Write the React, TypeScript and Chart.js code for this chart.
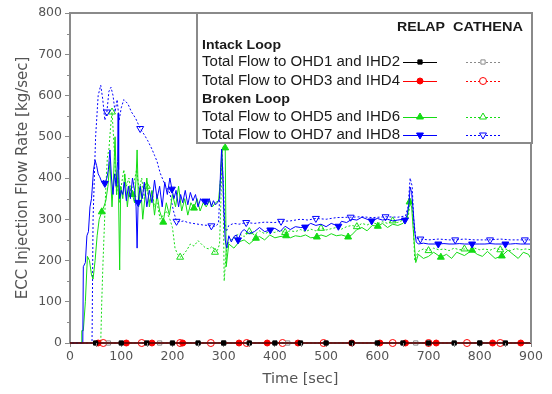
import React, { useEffect, useRef } from 'react';
import { Chart, registerables } from 'chart.js';
import { drawPoint } from 'chart.js/helpers';

Chart.register(...registerables);

type P = [number, number];

// ---------- data ----------
const xMinorTicks = [50, 150, 250, 350, 450, 550, 650, 750, 850];
const yMinorTicks = [50, 150, 250, 350, 450, 550, 650, 750];

// Intack loop (all zero flow)
const relapOhd1: P[] = [[0, 0], [50, 0], [100, 0], [150, 0], [200, 0], [250, 0], [300, 0], [350, 0], [400, 0], [450, 0], [500, 0], [550, 0], [600, 0], [650, 0], [700, 0], [750, 0], [800, 0], [850, 0], [900, 0]];
const relapOhd1Marks = [50, 100, 150, 200, 250, 300, 350, 400, 450, 500, 550, 600, 650, 700, 750, 800, 850];
const cathenaOhd1: P[] = [[0, 0], [75, 0], [175, 0], [300, 0], [425, 0], [550, 0], [675, 0], [800, 0], [900, 0]];
const cathenaOhd1Marks = [75, 175, 300, 425, 550, 675, 800];
const relapOhd3: P[] = [[0, 0], [55, 0], [110, 0], [160, 0], [220, 0], [330, 0], [385, 0], [445, 0], [550, 0], [605, 0], [655, 0], [715, 0], [825, 0], [880, 0], [900, 0]];
const relapOhd3Marks = [55, 110, 160, 220, 330, 385, 445, 550, 605, 655, 715, 825, 880];
const cathenaOhd3: P[] = [[0, 0], [65, 0], [140, 0], [215, 0], [275, 0], [345, 0], [415, 0], [495, 0], [630, 0], [700, 0], [775, 0], [840, 0], [900, 0]];
const cathenaOhd3Marks = [65, 140, 215, 275, 345, 415, 495, 630, 700, 775, 840];

// Broken loop
const relapOhd7: P[] = [[0, 0], [25, 0], [26, 185], [30, 195], [33, 260], [36, 270], [39, 330], [42, 350], [46, 420], [49, 443], [52, 430], [55, 410], [58, 403], [62, 390], [66, 395], [68, 387], [72, 400], [75, 420], [78, 468], [81, 400], [84, 360], [87, 410], [90, 380], [93, 440], [94, 557], [95, 420], [97, 350], [100, 370], [103, 360], [106, 390], [110, 345], [114, 380], [118, 350], [122, 400], [126, 370], [129, 330], [131, 230], [133, 341], [137, 380], [141, 350], [145, 390], [150, 330], [155, 370], [160, 340], [165, 395], [170, 350], [175, 380], [180, 330], [185, 390], [190, 360], [195, 400], [199, 373], [203, 350], [207, 370], [212, 330], [216, 360], [220, 340], [225, 370], [230, 335], [235, 365], [240, 345], [245, 360], [250, 330], [255, 350], [260, 340], [264, 344], [268, 335], [272, 350], [276, 330], [280, 345], [284, 335], [288, 340], [292, 350], [294, 420], [296, 470], [298, 420], [300, 330], [303, 250], [306, 230], [310, 260], [315, 245], [320, 258], [325, 262], [328, 250], [335, 270], [340, 275], [350, 265], [360, 270], [370, 280], [380, 270], [391, 274], [400, 278], [410, 270], [420, 283], [430, 275], [440, 282], [450, 280], [459, 281], [470, 290], [480, 285], [490, 288], [500, 282], [510, 290], [524, 283], [530, 295], [540, 292], [550, 300], [560, 298], [570, 305], [580, 300], [589, 296], [600, 302], [610, 298], [620, 300], [630, 296], [640, 298], [650, 300], [654, 298], [658, 310], [662, 340], [664, 378], [667, 365], [670, 320], [673, 270], [676, 245], [680, 240], [690, 242], [700, 240], [719, 240], [730, 241], [740, 240], [750, 240], [760, 241], [770, 240], [785, 240], [800, 240], [810, 240], [820, 241], [830, 240], [850, 240], [860, 240], [870, 241], [880, 240], [890, 240], [900, 240]];
const relapOhd7Marks = [68, 133, 199, 264, 328, 391, 459, 524, 589, 654, 719, 785, 850];

const relapOhd5: P[] = [[0, 0], [22, 0], [23, 30], [26, 30], [30, 100], [34, 210], [38, 200], [42, 165], [45, 155], [49, 200], [53, 260], [57, 300], [62, 318], [66, 330], [70, 345], [74, 380], [78, 440], [82, 330], [85, 400], [88, 500], [91, 360], [94, 420], [97, 177], [99, 380], [103, 350], [107, 410], [112, 330], [116, 380], [122, 360], [126, 340], [129, 400], [131, 468], [134, 330], [138, 380], [142, 300], [146, 350], [150, 400], [155, 330], [160, 370], [165, 310], [170, 360], [175, 320], [182, 293], [188, 340], [194, 310], [200, 360], [206, 330], [212, 380], [218, 320], [224, 350], [230, 310], [236, 340], [242, 327], [248, 350], [254, 320], [260, 340], [266, 330], [272, 345], [278, 330], [284, 340], [290, 345], [294, 400], [297, 470], [300, 478], [303, 473], [305, 185], [310, 240], [320, 230], [330, 245], [340, 250], [350, 240], [363, 254], [370, 258], [380, 250], [390, 262], [400, 255], [410, 258], [422, 260], [430, 255], [440, 260], [450, 258], [460, 262], [470, 255], [482, 257], [490, 262], [500, 258], [510, 265], [520, 260], [530, 262], [543, 257], [550, 262], [560, 275], [570, 280], [580, 272], [590, 285], [601, 283], [610, 290], [620, 280], [630, 288], [640, 285], [650, 290], [658, 300], [663, 342], [667, 330], [671, 260], [675, 195], [680, 215], [690, 205], [700, 210], [710, 220], [724, 208], [735, 215], [745, 205], [755, 220], [770, 212], [785, 225], [795, 215], [805, 210], [815, 222], [830, 205], [843, 211], [855, 225], [865, 215], [875, 205], [885, 220], [895, 215], [900, 204]];
const relapOhd5Marks = [62, 122, 182, 242, 303, 363, 422, 482, 543, 601, 663, 724, 785, 843];

const cathenaOhd7: P[] = [[0, 0], [43, 0], [45, 300], [50, 500], [55, 600], [60, 625], [64, 590], [68, 540], [72, 560], [76, 610], [80, 620], [84, 600], [88, 560], [92, 590], [96, 540], [100, 570], [105, 590], [113, 580], [120, 560], [128, 545], [137, 520], [145, 505], [152, 490], [160, 470], [165, 455], [170, 440], [176, 412], [185, 385], [195, 363], [202, 320], [208, 295], [215, 294], [222, 296], [230, 292], [240, 290], [250, 288], [260, 286], [270, 285], [276, 284], [284, 283], [290, 290], [293, 380], [296, 440], [299, 400], [302, 300], [305, 270], [310, 285], [320, 290], [330, 288], [344, 292], [360, 290], [380, 293], [400, 292], [412, 295], [430, 296], [450, 300], [465, 298], [480, 302], [500, 300], [520, 304], [548, 305], [570, 306], [590, 304], [616, 306], [640, 305], [655, 308], [660, 330], [664, 400], [668, 380], [671, 300], [675, 255], [684, 252], [700, 250], [720, 252], [740, 250], [752, 250], [770, 252], [790, 250], [820, 250], [840, 252], [860, 250], [888, 250], [900, 250]];
const cathenaOhd7Marks = [72, 137, 208, 276, 344, 412, 480, 548, 616, 684, 752, 820, 888];

const cathenaOhd5: P[] = [[0, 0], [60, 0], [62, 100], [64, 180], [67, 280], [70, 380], [73, 450], [76, 470], [79, 520], [82, 560], [85, 500], [88, 430], [91, 360], [94, 400], [97, 340], [100, 380], [105, 420], [110, 380], [115, 400], [120, 360], [125, 390], [130, 420], [135, 370], [140, 400], [145, 350], [150, 380], [155, 340], [160, 370], [165, 330], [170, 340], [176, 300], [182, 310], [188, 320], [195, 300], [200, 280], [205, 230], [210, 215], [215, 208], [220, 212], [228, 225], [235, 240], [242, 235], [250, 248], [258, 238], [265, 230], [272, 228], [278, 235], [283, 220], [288, 225], [292, 240], [295, 360], [297, 470], [299, 380], [301, 150], [305, 220], [310, 245], [320, 255], [330, 265], [340, 258], [350, 270], [360, 262], [370, 272], [380, 265], [390, 270], [400, 268], [410, 274], [420, 268], [430, 272], [440, 270], [450, 275], [460, 270], [470, 276], [480, 272], [490, 278], [500, 274], [510, 277], [520, 280], [530, 276], [540, 282], [550, 285], [560, 282], [570, 290], [580, 286], [590, 292], [600, 288], [610, 294], [620, 290], [630, 296], [640, 292], [650, 298], [660, 302], [665, 350], [669, 320], [673, 200], [680, 222], [690, 228], [700, 224], [710, 230], [720, 226], [730, 228], [740, 224], [750, 230], [760, 226], [770, 228], [780, 224], [790, 230], [800, 226], [810, 228], [820, 225], [830, 230], [840, 226], [850, 228], [860, 224], [870, 229], [880, 226], [890, 228], [900, 226]];
const cathenaOhd5Marks = [82, 150, 215, 283, 350, 420, 490, 560, 630, 700, 770, 840];

// ---------- styling ----------
const FONT = '"DejaVu Sans", "Liberation Sans", sans-serif';
const LFONT = '"Liberation Sans", Arial, sans-serif';
const AXIS = '#8a8a8a';
const TXT = '#555555';
const BLUE = '#0000ff';
const GREEN = '#14dc14';
const RED = '#ff0000';
const BLACK = '#000000';
const GRAY = '#8a8a8a';

function series(label: string, pts: P[], marks: number[], color: string, dashed: boolean,
  pointStyle: string, rotation: number, filled: boolean, radius: number) {
  return {
    label,
    data: pts.map(([x, y]) => ({ x, y })),
    borderColor: color,
    backgroundColor: color,
    borderWidth: 1,
    borderDash: dashed ? [2, 2] : [],
    pointStyle,
    pointRotation: rotation,
    pointBackgroundColor: filled ? color : 'rgba(255,255,255,0)',
    pointBorderColor: color,
    pointBorderWidth: 1,
    pointRadius: (c: any) => (c.raw && marks.includes(c.raw.x) ? radius : 0),
    pointHoverRadius: 0,
    pointHitRadius: 0,
    tension: 0,
    fill: false,
    clip: false as any,
    _legend: { color, dashed, pointStyle, rotation, filled, radius },
  };
}

// draws text stretched horizontally to a given width
function fitText(ctx: CanvasRenderingContext2D, text: string, x: number, y: number, width: number) {
  const w = ctx.measureText(text).width || 1;
  ctx.save();
  ctx.translate(x, y);
  ctx.scale(width / w, 1);
  ctx.textAlign = 'left';
  ctx.fillText(text, 0, 0);
  ctx.restore();
}

const framePlugin = {
  id: 'frameAndLegend',
  afterDraw(chart: any) {
    const ctx: CanvasRenderingContext2D = chart.ctx;
    const { left, right, top, bottom } = chart.chartArea;
    const xs = chart.scales.x;
    const ys = chart.scales.y;
    ctx.save();
    // frame top & right
    ctx.strokeStyle = AXIS;
    ctx.lineWidth = 2;
    ctx.beginPath();
    ctx.moveTo(left, top);
    ctx.lineTo(right, top);
    ctx.lineTo(right, bottom);
    ctx.stroke();
    // minor ticks
    ctx.lineWidth = 1;
    ctx.beginPath();
    for (const v of yMinorTicks) {
      const y = Math.round(ys.getPixelForValue(v)) + 0.5;
      ctx.moveTo(left - 3, y);
      ctx.lineTo(left, y);
    }
    for (const v of xMinorTicks) {
      const x = Math.round(xs.getPixelForValue(v)) + 0.5;
      ctx.moveTo(x, bottom);
      ctx.lineTo(x, bottom + 4);
    }
    ctx.stroke();

    // legend box
    const bx = right - 334;
    const by = top;
    const bw = 335;
    const bh = 130;
    ctx.fillStyle = '#ffffff';
    ctx.fillRect(bx, by, bw, bh);
    ctx.strokeStyle = AXIS;
    ctx.lineWidth = 2;
    ctx.strokeRect(bx, by, bw, bh);

    const ds = chart.data.datasets;
    const find = (l: string) => ds.find((d: any) => d.label === l);
    const relapX = bx + 223;
    const cathX = bx + 286;
    const sampleHalf = 17;

    ctx.textBaseline = 'middle';
    ctx.fillStyle = '#1a1a1a';
    ctx.font = `bold 13px ${LFONT}`;
    fitText(ctx, 'RELAP', bx + 200, by + 14, 48);
    fitText(ctx, 'CATHENA', bx + 256, by + 14, 70);

    const rows: any[] = [
      { head: 'Intack Loop', y: 32, w: 79 },
      { text: 'Total Flow to OHD1 and IHD2', y: 49, r: 'RELAP OHD1', c: 'CATHENA OHD1' },
      { text: 'Total Flow to OHD3 and IHD4', y: 68, r: 'RELAP OHD3', c: 'CATHENA OHD3' },
      { head: 'Broken Loop', y: 86, w: 88 },
      { text: 'Total Flow to OHD5 and IHD6', y: 104, r: 'RELAP OHD5', c: 'CATHENA OHD5' },
      { text: 'Total Flow to OHD7 and IHD8', y: 122, r: 'RELAP OHD7', c: 'CATHENA OHD7' },
    ];
    for (const row of rows) {
      const y = by + row.y;
      if (row.head) {
        ctx.font = `bold 13.5px ${LFONT}`;
        ctx.fillStyle = '#1a1a1a';
        fitText(ctx, row.head, bx + 5, y, row.w);
        continue;
      }
      ctx.font = `14px ${LFONT}`;
      ctx.fillStyle = '#1a1a1a';
      fitText(ctx, row.text, bx + 5, y, 198);
      for (const [lbl, cx] of [[row.r, relapX], [row.c, cathX]] as [string, number][]) {
        const d = find(lbl);
        if (!d) continue;
        const L = d._legend;
        ctx.save();
        ctx.strokeStyle = L.color;
        ctx.lineWidth = 1;
        ctx.setLineDash(L.dashed ? [2, 2] : []);
        ctx.beginPath();
        ctx.moveTo(cx - sampleHalf, Math.round(y) + 0.5);
        ctx.lineTo(cx + sampleHalf, Math.round(y) + 0.5);
        ctx.stroke();
        ctx.setLineDash([]);
        ctx.fillStyle = L.filled ? L.color : '#ffffff';
        drawPoint(ctx, { pointStyle: L.pointStyle, rotation: L.rotation, radius: L.radius, borderWidth: 1 } as any, cx, y);
        ctx.restore();
      }
    }
    ctx.restore();
  },
};

export default function App() {
  const ref = useRef<HTMLCanvasElement>(null);
  useEffect(() => {
    document.body.style.margin = '0';
    const canvas = ref.current;
    if (!canvas) return;
    const datasets: any[] = [
      series('RELAP OHD1', relapOhd1, relapOhd1Marks, BLACK, false, 'rect', 0, true, 3),
      series('RELAP OHD3', relapOhd3, relapOhd3Marks, RED, false, 'circle', 0, true, 3),
      series('CATHENA OHD1', cathenaOhd1, cathenaOhd1Marks, GRAY, true, 'rect', 0, false, 3),
      series('CATHENA OHD3', cathenaOhd3, cathenaOhd3Marks, RED, true, 'circle', 0, false, 3.5),
      series('RELAP OHD7', relapOhd7, relapOhd7Marks, BLUE, false, 'triangle', 180, true, 4),
      series('RELAP OHD5', relapOhd5, relapOhd5Marks, GREEN, false, 'triangle', 0, true, 4),
      series('CATHENA OHD7', cathenaOhd7, cathenaOhd7Marks, BLUE, true, 'triangle', 180, false, 4),
      series('CATHENA OHD5', cathenaOhd5, cathenaOhd5Marks, GREEN, true, 'triangle', 0, false, 4),
    ];
    const chart = new Chart(canvas, {
      type: 'line',
      data: { datasets },
      plugins: [framePlugin as any],
      options: {
        responsive: false,
        animation: false,
        devicePixelRatio: 1,
        events: [],
        layout: { padding: { top: 13, right: 21, left: 0, bottom: 0 } },
        plugins: { legend: { display: false }, tooltip: { enabled: false }, title: { display: false } },
        scales: {
          x: {
            type: 'linear',
            min: 0,
            max: 900,
            afterFit: (s: any) => { s.height = 51; },
            ticks: { stepSize: 100, color: TXT, font: { family: FONT, size: 12.5 }, padding: 2, maxRotation: 0, autoSkip: false },
            grid: { drawOnChartArea: false, drawTicks: true, tickLength: 4, color: AXIS, lineWidth: 1 },
            border: { display: true, color: AXIS, width: 2 },
            title: { display: true, text: 'Time [sec]', color: TXT, font: { family: FONT, size: 14.5 }, padding: { top: 0, bottom: 6 } },
          },
          y: {
            type: 'linear',
            min: 0,
            max: 800,
            afterFit: (s: any) => { s.width = 70; },
            ticks: { stepSize: 100, color: TXT, font: { family: FONT, size: 12.5 }, padding: 3 },
            grid: { drawOnChartArea: false, drawTicks: true, tickLength: 5, color: AXIS, lineWidth: 1 },
            border: { display: true, color: AXIS, width: 2 },
            title: { display: true, text: 'ECC Injection Flow Rate [kg/sec]', color: TXT, font: { family: FONT, size: 15 }, padding: { top: 14, bottom: 0 } },
          },
        },
      },
    });
    return () => chart.destroy();
  }, []);
  return (
    <div style={{ width: 552, height: 394, background: '#ffffff' }}>
      <canvas ref={ref} width={552} height={394} style={{ display: 'block', width: 552, height: 394 }} />
    </div>
  );
}
